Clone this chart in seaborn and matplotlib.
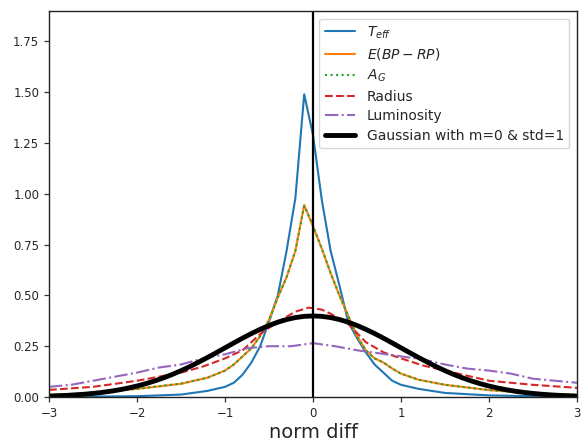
import numpy as np
import pandas as pd
import matplotlib
matplotlib.use("Agg")
import matplotlib.pyplot as plt
import seaborn as sns

# ---- data ----
x_peak = [-3.0, -2.5, -2.0, -1.5, -1.2, -1.0, -0.9, -0.8, -0.7, -0.6, -0.5, -0.4, -0.3, -0.2, -0.1,
          0.0, 0.1, 0.2, 0.3, 0.4, 0.5, 0.6, 0.7, 0.8, 0.9, 1.0, 1.2, 1.5, 2.0, 2.5, 3.0]
teff = [0.001, 0.002, 0.004, 0.012, 0.03, 0.05, 0.07, 0.11, 0.17, 0.25, 0.37, 0.50, 0.72, 0.98, 1.49,
        1.29, 0.97, 0.72, 0.55, 0.37, 0.29, 0.22, 0.16, 0.12, 0.08, 0.06, 0.04, 0.02, 0.008, 0.004, 0.002]
ebprp = [0.01, 0.02, 0.04, 0.065, 0.095, 0.13, 0.16, 0.20, 0.24, 0.30, 0.38, 0.49, 0.59, 0.72, 0.945,
         0.84, 0.73, 0.61, 0.50, 0.40, 0.30, 0.23, 0.19, 0.17, 0.14, 0.115, 0.085, 0.06, 0.034, 0.018, 0.01]
ag = [0.01, 0.02, 0.04, 0.066, 0.095, 0.13, 0.16, 0.20, 0.24, 0.30, 0.38, 0.49, 0.59, 0.72, 0.94,
      0.845, 0.73, 0.61, 0.50, 0.40, 0.30, 0.23, 0.19, 0.17, 0.14, 0.115, 0.085, 0.06, 0.034, 0.018, 0.01]

x_radius = [-3.0, -2.5, -2.0, -1.5, -1.25, -1.0, -0.8, -0.6, -0.4, -0.2, -0.05, 0.1, 0.2, 0.4, 0.6,
            0.8, 1.0, 1.25, 1.5, 2.0, 2.5, 3.0]
radius = [0.035, 0.05, 0.08, 0.12, 0.15, 0.19, 0.23, 0.31, 0.37, 0.42, 0.44, 0.43, 0.41, 0.36, 0.27,
          0.22, 0.19, 0.155, 0.13, 0.08, 0.06, 0.045]

x_lum = [-3.0, -2.75, -2.5, -2.25, -2.0, -1.75, -1.5, -1.25, -1.0, -0.75, -0.5, -0.25, 0.0, 0.25, 0.5,
         0.75, 1.0, 1.25, 1.5, 1.75, 2.0, 2.25, 2.5, 2.75, 3.0]
lum = [0.05, 0.06, 0.08, 0.10, 0.12, 0.145, 0.16, 0.19, 0.21, 0.24, 0.25, 0.25, 0.265, 0.25, 0.23,
       0.215, 0.20, 0.185, 0.16, 0.14, 0.13, 0.115, 0.09, 0.08, 0.07]

x_gauss = [round(-3.0 + 0.1 * i, 1) for i in range(61)]
gauss = [0.0044, 0.0060, 0.0079, 0.0104, 0.0136, 0.0175, 0.0224, 0.0283, 0.0355, 0.0440,
         0.0540, 0.0656, 0.0790, 0.0940, 0.1109, 0.1295, 0.1497, 0.1714, 0.1942, 0.2179,
         0.2420, 0.2661, 0.2897, 0.3123, 0.3332, 0.3521, 0.3683, 0.3814, 0.3910, 0.3970,
         0.3989,
         0.3970, 0.3910, 0.3814, 0.3683, 0.3521, 0.3332, 0.3123, 0.2897, 0.2661, 0.2420,
         0.2179, 0.1942, 0.1714, 0.1497, 0.1295, 0.1109, 0.0940, 0.0790, 0.0656, 0.0540,
         0.0440, 0.0355, 0.0283, 0.0224, 0.0175, 0.0136, 0.0104, 0.0079, 0.0060, 0.0044]

labels = [r"$T_{eff}$", r"$E(BP-RP)$", r"$A_G$", "Radius", "Luminosity",
          "Gaussian with m=0 & std=1"]

# ---- plotting ----
sns.set_style("ticks")
plt.rcParams["font.family"] = ["DejaVu Sans"]
plt.rcParams["mathtext.fontset"] = "dejavusans"

fig = plt.figure(figsize=(5.81, 4.41), dpi=100)
ax = fig.add_axes([49 / 581, 44 / 441, 528 / 581, 386 / 441])

series = [
    (x_peak, teff, labels[0], "#1f77b4", "-", 1.5),
    (x_peak, ebprp, labels[1], "#ff7f0e", "-", 1.5),
    (x_peak, ag, labels[2], "#2ca02c", ":", 1.5),
    (x_radius, radius, labels[3], "#d62728", "--", 1.5),
    (x_lum, lum, labels[4], "#9467bd", "-.", 1.5),
    (x_gauss, gauss, labels[5], "black", "-", 3.5),
]
for xs, ys, lab, col, ls, lw in series:
    df = pd.DataFrame({"x": xs, "y": ys})
    sns.lineplot(data=df, x="x", y="y", ax=ax, color=col, linestyle=ls,
                 linewidth=lw, label=lab, estimator=None)

ax.axvline(0, color="black", linewidth=1.6)
ax.set_xlim(-3, 3)
ax.set_ylim(0, 1.9)
ax.set_yticks([0, 0.25, 0.5, 0.75, 1.0, 1.25, 1.5, 1.75])
ax.yaxis.set_major_formatter(matplotlib.ticker.FormatStrFormatter("%.2f"))
ax.set_xlabel("norm diff", fontsize=14, labelpad=2)
ax.set_ylabel("")
ax.tick_params(labelsize=8.5, direction="out", length=3.5, width=0.9, color="#333333")
for s in ax.spines.values():
    s.set_visible(True)
    s.set_color("#222222")
    s.set_linewidth(1.0)

ax.legend(loc="upper right", fontsize=10, framealpha=0.8, borderaxespad=0.55,
          handlelength=2.2, labelspacing=0.4)

fig.savefig("out.png", dpi=100)
